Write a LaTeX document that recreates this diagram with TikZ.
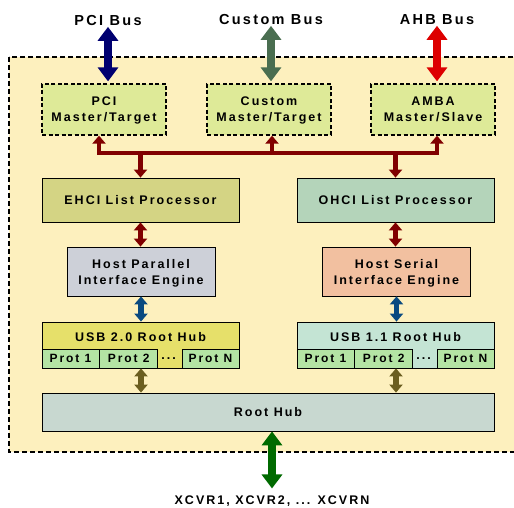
\documentclass[tikz,border=0pt]{standalone}
\usepackage{fontspec}
\usepackage{tikz}
\usetikzlibrary{arrows.meta}
\newfontfamily\blockfont{Liberation Sans}[LetterSpace=16]

\definecolor{chipbg}{HTML}{FDF0BE}
\definecolor{ifgreen}{HTML}{DEEA98}
\definecolor{ehcifill}{HTML}{D4D484}
\definecolor{ohcifill}{HTML}{B4D4BA}
\definecolor{hpiefill}{HTML}{CDD0D8}
\definecolor{hsiefill}{HTML}{F2C0A0}
\definecolor{usbtwofill}{HTML}{E6E06A}
\definecolor{usbonefill}{HTML}{C4E4D4}
\definecolor{protfill}{HTML}{B4E4A4}
\definecolor{roothubfill}{HTML}{C8D8D0}
\definecolor{busred}{HTML}{800000}
\definecolor{pcinavy}{HTML}{000070}
\definecolor{customgreen}{HTML}{4A6E50}
\definecolor{ahbred}{HTML}{DD0000}
\definecolor{pieblue}{HTML}{0A4A80}
\definecolor{hubolive}{HTML}{6B5E20}
\definecolor{xcvrgreen}{HTML}{006A00}

\tikzstyle{block} = [draw, line width=0.8pt, inner sep=0pt, align=center, text depth=0pt,
  font=\blockfont\bfseries\fontsize{12.5}{16}\selectfont]
\tikzstyle{ifblock} = [block, dashed, line width=1.3pt, dash pattern=on 4pt off 2.5pt, fill=ifgreen,
  minimum width=124pt, minimum height=51pt]
\tikzstyle{listblock} = [block, minimum width=197pt, minimum height=44pt]
\tikzstyle{engblock} = [block, minimum width=148pt, minimum height=49pt]
\tikzstyle{hubblock} = [block, minimum width=197pt, minimum height=46pt]
\tikzstyle{prot} = [block, fill=protfill, minimum width=57pt, minimum height=19pt,
  font=\blockfont\bfseries\fontsize{12}{14}\selectfont]
\tikzstyle{title} = [inner sep=0pt, font=\blockfont\bfseries\fontsize{12.5}{16}\selectfont]
\tikzstyle{buslabel} = [inner sep=0pt, font=\blockfont\bfseries\fontsize{14.5}{16}\selectfont]
\tikzstyle{busarrow} = [line width=8pt, {Triangle[width=20pt,length=14pt]}-{Triangle[width=20pt,length=14pt]}]
\tikzstyle{linkarrow} = [line width=5.5pt, {Triangle[width=13pt,length=8pt]}-{Triangle[width=13pt,length=8pt]}]
\tikzstyle{tap} = [line width=4.5pt, -{Triangle[width=13pt,length=8pt]}]

\begin{document}
\begin{tikzpicture}[x=1pt, y=-1pt]
\useasboundingbox (0,0) rectangle (514,508);

% chip outline
\draw[fill=chipbg, line width=1.5pt, dash pattern=on 5pt off 3pt] (9,57) rectangle (530,452);

% bus interfaces
\node[ifblock] (pci) at (104,109.5) {PCI\\Master/Target};
\node[ifblock] (custom) at (269,109.5) {Custom\\Master/Target};
\node[ifblock] (amba) at (433,109.5) {AMBA\\Master/Slave};

\node[buslabel] (pcibus) at (108,20.5) {PCI Bus};
\node[buslabel] (custombus) at (271,19.5) {Custom Bus};
\node[buslabel] (ahbbus) at (437,19.5) {AHB Bus};

\draw[busarrow, pcinavy] ([yshift=-1pt]pcibus.south) -- ([yshift=2pt]pcibus.south |- pci.north);
\draw[busarrow, customgreen] ([yshift=-1pt]custombus.south) -- ([yshift=2pt]custombus.south |- pci.north);
\draw[busarrow, ahbred] ([yshift=-1pt]ahbbus.south) -- ([yshift=2pt]ahbbus.south |- amba.north);

% list processors
\node[listblock, fill=ehcifill] (ehci) at (140.5,200) {EHCI List Processor};
\node[listblock, fill=ohcifill] (ohci) at (395.5,200) {OHCI List Processor};

% internal bus
\coordinate (busw) at (99,153);
\coordinate (busm) at (272,153);
\coordinate (buse) at (437,153);
\draw[busred, line width=4pt, line cap=rect] (busw) -- (buse);
\foreach \tap/\to in {busw/pci, busm/custom, buse/amba}
{
	\draw[tap, busred] (\tap) -- (\tap |- \to.south);
}
\draw[tap, busred] (ehci.north |- busw) -- (ehci.north);
\draw[tap, busred] (ohci.north |- busw) -- (ohci.north);

% interface engines
\node[engblock, fill=hpiefill] (hpie) at (141,271.5) {Host Parallel\\Interface Engine};
\node[engblock, fill=hsiefill] (hsie) at (396.5,271.5) {Host Serial\\Interface Engine};

\draw[linkarrow, busred] (ehci.south) -- (ehci.south |- hpie.north);
\draw[linkarrow, busred] (ohci.south) -- (ohci.south |- hsie.north);

% root hubs
\node[hubblock, fill=usbtwofill] (usbtwo) at (140.5,345) {};
\node[title] (usbtwotitle) at (140.5,337) {USB 2.0 Root Hub};
\node[prot, anchor=south west] (ptwoa) at (usbtwo.south west) {Prot 1};
\node[prot, anchor=west, minimum width=58pt] (ptwob) at (ptwoa.east) {Prot 2};
\node[prot, anchor=south east] (ptwon) at (usbtwo.south east) {Prot N};
\node[title, anchor=west] (ptwodots) at ([xshift=3pt]ptwob.east) {...};

\node[hubblock, fill=usbonefill] (usbone) at (395.5,345) {};
\node[title] (usbonetitle) at (395.5,337) {USB 1.1 Root Hub};
\node[prot, anchor=south west] (ponea) at (usbone.south west) {Prot 1};
\node[prot, anchor=west, minimum width=58pt] (poneb) at (ponea.east) {Prot 2};
\node[prot, anchor=south east] (ponen) at (usbone.south east) {Prot N};
\node[title, anchor=west] (ponedots) at ([xshift=3pt]poneb.east) {...};

\draw[linkarrow, pieblue] (hpie.south) -- (hpie.south |- usbtwo.north);
\draw[linkarrow, pieblue] (hsie.south) -- (hsie.south |- usbone.north);

% root hub and transceivers
\node[block, fill=roothubfill, minimum width=452pt, minimum height=38pt] (roothub) at (268,412) {Root Hub};
\node[title] (xcvr) at (272,501) {XCVR1, XCVR2, ... XCVRN};

\draw[linkarrow, hubolive] ([xshift=0.5pt]usbtwo.south) -- ([xshift=0.5pt]usbtwo.south |- roothub.north);
\draw[linkarrow, hubolive] ([xshift=0.5pt]usbone.south) -- ([xshift=0.5pt]usbone.south |- roothub.north);
\draw[busarrow, xcvrgreen] (roothub.south -| xcvr.north) -- ([yshift=7pt]xcvr.north);

\end{tikzpicture}
\end{document}
